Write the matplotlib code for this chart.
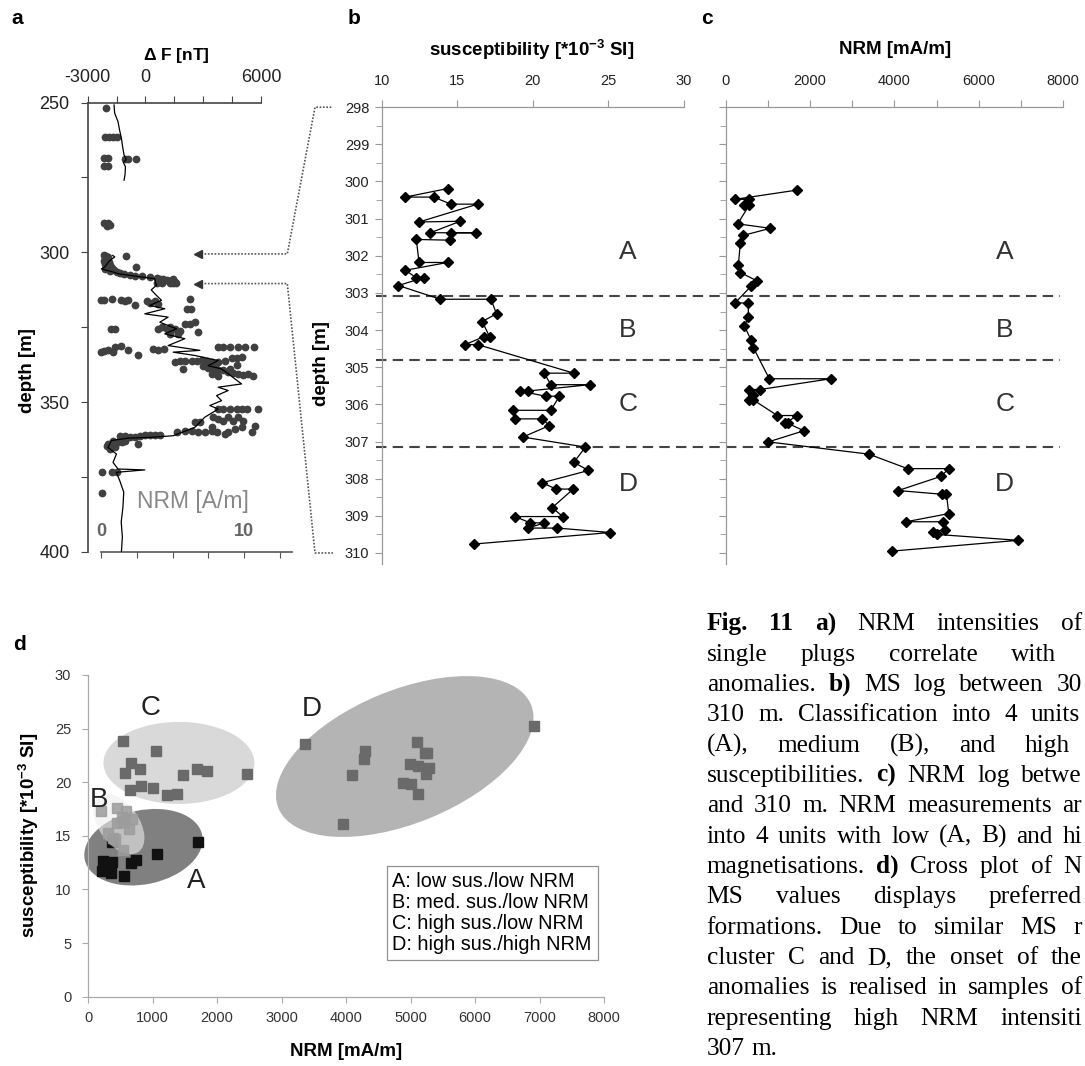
import numpy as np
import matplotlib
matplotlib.use("Agg")
import matplotlib.pyplot as plt
from matplotlib.patches import Ellipse
from matplotlib.lines import Line2D
from matplotlib.transforms import ScaledTranslation

plt.rcParams['font.family'] = ['Liberation Sans', 'DejaVu Sans']
plt.rcParams['mathtext.fontset'] = 'custom'
plt.rcParams['mathtext.rm'] = 'Liberation Sans'
plt.rcParams['mathtext.bf'] = 'Liberation Sans:bold'

# ---------------- data ----------------
# a) delta F log (depth in m, nT)
dF_depth = [250.8, 253.5, 256.4, 259.0, 262.0, 265.0, 267.5, 269.0, 270.0, 271.4, 274.0, 275.9, np.nan,
            301.0, 301.5, 303.0, 304.9, 305.5, 306.5, 307.1, 307.9, 308.8, 310.0, 311.0, 312.5, 313.8,
            316.0, 317.7, 318.8, 320.5, 321.6, 323.3, 325.5, 327.2, 328.8, 331.1, 332.7, 333.3, 334.4,
            336.1, 337.8, 338.9, 340.5, 342.0, 343.9, 345.0, 346.1, 347.8, 349.5, 351.1, 352.3, 355.0,
            358.4, 361.2, 361.7, 362.0, 362.8, 365.1, 367.3, 370.1, 372.3, 372.6, 373.4, 376.2, 380.0,
            385.0, 390.0, 395.0, 400.0]
dF_value = [-1632, -1600, -1424, -1350, -1248, -1180, -1112, -1000, -1150, -1040, -1060, -1112, np.nan,
            -1700, -1596, -1900, -2116, -2290, -1700, -1424, -556, 484, 520, 572, 300, 484,
            832, 224, 1004, -36, 1176, 744, 1612, 1004, 2044, 1176, 2824, 1436, 2564,
            3776, 3256, 3952, 4300, 4600, 4992, 3776, 4296, 3692, 3952, 3344, 3776, 3084,
            2564, 1436, 312, -904, -1768, -1944, -1508, -1684, -1424, -36, -1508, -1336, -1128,
            -1170, -1260, -1200, -1250]

# a) NRM of single plugs (depth in m, A/m)
plug_depth_top = [251.7, 261.6, 261.6, 261.4, 261.4, 268.4, 268.4, 268.8, 268.8, 268.8, 271.2, 271.2,
                  290.2, 290.2, 290.9, 291.3]
plug_nrm_top = [0.33, 0.28, 0.56, 0.86, 1.10, 0.23, 0.47, 1.68, 1.91, 2.42, 0.23, 0.51,
                0.23, 0.47, 0.63, 0.40]
plug_depth_300 = [301.0, 301.3, 301.6, 302.0, 302.3, 302.6, 303.0, 303.3, 303.6, 304.0, 304.3, 304.6,
                  305.0, 305.3, 305.6, 306.0, 306.3, 301.2, 304.9, 306.6, 306.9, 307.2, 307.5, 307.8,
                  308.0, 308.2, 308.5, 308.9, 309.3, 308.8, 309.9, 309.5, 308.8, 310.2, 310.2, 310.2,
                  310.2, 310.2]
plug_nrm_300 = [0.20, 0.35, 0.50, 0.25, 0.45, 0.30, 0.20, 0.55, 0.40, 0.25, 0.60, 0.35,
                0.50, 0.75, 0.30, 0.90, 0.60, 1.72, 2.42, 1.10, 1.30, 1.60, 2.00, 2.40,
                2.90, 3.43, 3.90, 4.13, 4.59, 5.06, 5.17, 4.80, 4.35, 3.90, 4.24, 4.82,
                5.06, 5.22]
plug_depth_320 = [315.8, 316.0, 315.5, 315.8, 316.2, 316.0, 317.7, 316.2, 316.9, 316.2, 317.1, 315.5,
                  318.8, 318.8, 325.5, 325.5, 325.5, 324.9, 325.5, 324.9, 325.5, 326.1, 323.8, 323.8,
                  323.3, 326.6, 327.2, 327.2]
plug_nrm_320 = [0.00, 0.23, 0.75, 1.40, 1.68, 1.91, 2.38, 3.19, 3.43, 3.78, 4.01, 6.22,
                5.99, 6.29, 0.70, 0.98, 4.01, 4.24, 4.59, 4.82, 5.17, 5.52, 5.87, 6.22,
                6.57, 6.81, 4.82, 5.40]
plug_depth_333 = [333.3, 333.0, 332.7, 333.3, 331.6, 331.4, 332.7, 334.1, 332.2, 332.7, 332.2, 331.6,
                  331.6, 331.6, 331.6, 331.6, 331.6]
plug_nrm_333 = [0.00, 0.23, 0.51, 0.86, 0.98, 1.40, 1.86, 2.61, 3.66, 4.01, 4.43, 8.20,
                8.56, 9.02, 9.60, 10.07, 10.72]
plug_depth_337 = [336.6, 336.3, 336.3, 336.1, 336.1, 335.9, 336.1, 336.6, 336.6, 336.1, 335.2, 335.2,
                  335.0, 338.9, 337.8, 338.5, 338.9, 339.2, 339.4, 340.0, 340.3, 340.5, 340.8, 340.5,
                  341.1, 340.5, 341.1, 338.0, 339.0, 337.5]
plug_nrm_337 = [5.17, 5.52, 5.87, 6.34, 6.69, 7.04, 7.39, 7.74, 8.20, 8.67, 9.14, 9.49,
                9.84, 5.71, 7.16, 7.51, 7.86, 8.20, 8.56, 8.90, 9.26, 9.60, 9.96, 10.30,
                10.65, 7.74, 8.20, 8.00, 9.00, 9.50]
plug_depth_355 = [352.3, 352.3, 352.3, 352.3, 352.3, 352.3, 352.3, 355.0, 355.6, 356.2, 355.0, 356.2,
                  355.0, 356.2, 358.4, 358.9, 360.1, 357.8, 360.1, 360.6, 360.1, 359.5, 360.1, 360.1,
                  359.5, 359.5, 360.1, 356.7, 356.7, 358.4]
plug_nrm_355 = [8.20, 8.56, 9.02, 9.49, 9.84, 10.19, 10.96, 7.86, 8.20, 8.56, 8.90, 9.26,
                9.60, 9.96, 9.84, 9.37, 8.90, 10.77, 10.54, 8.67, 8.09, 7.74, 7.27, 6.81,
                6.34, 5.87, 5.29, 6.57, 6.92, 7.74]
plug_depth_362 = [360.8, 360.8, 360.8, 360.8, 361.2, 361.5, 361.7, 361.2, 361.2, 363.95, 364.5, 363.95,
                  363.4, 363.4, 362.8, 365.6, 365.1, 363.95, 364.5, 362.8, 373.4, 373.4, 373.4, 380.2]
plug_nrm_362 = [4.13, 3.78, 3.43, 3.08, 2.73, 2.38, 2.03, 1.68, 1.33, 0.51, 0.75, 0.98,
                1.21, 1.45, 1.68, 0.63, 0.98, 2.61, 0.40, 0.86, 0.05, 0.75, 1.10, 0.05]

# b) susceptibility log
sus_depth = [300.19, 300.42, 300.42, 300.61, 300.61, 301.09, 301.07, 301.38, 301.38, 301.38, 301.58,
             301.56, 302.18, 302.18, 302.39, 302.59, 302.59, 302.80, 303.17, 303.17, 303.56, 303.77,
             304.18, 304.18, 304.39, 304.39, 305.16, 305.16, 305.47, 305.47, 305.64, 305.64, 305.78,
             305.78, 306.16, 306.16, 306.39, 306.39, 306.57, 306.88, 307.15, 307.56, 307.78, 308.11,
             308.28, 308.28, 308.78, 309.02, 309.02, 309.19, 309.19, 309.33, 309.33, 309.45, 309.76]
sus_value = [14.36, 11.56, 13.44, 14.58, 16.34, 12.47, 15.20, 13.22, 16.21, 14.58, 14.49,
             12.29, 12.47, 14.36, 11.56, 12.29, 12.78, 11.10, 13.88, 17.22, 17.60, 16.65,
             17.14, 16.74, 15.53, 16.34, 22.71, 20.75, 21.19, 23.77, 19.69, 19.14, 20.84,
             21.76, 21.19, 18.70, 18.85, 20.62, 21.10, 19.34, 23.48, 22.71, 23.68, 20.62,
             21.54, 22.67, 21.28, 21.98, 18.83, 19.82, 20.75, 19.69, 21.63, 25.13, 16.10]

# c) NRM log (mA/m)
nrm_depth = [300.23, 300.48, 300.48, 300.63, 300.63, 301.14, 301.26, 301.45, 301.66, 302.24, 302.45,
             302.67, 302.82, 303.27, 303.27, 303.66, 303.89, 304.26, 304.47, 305.31, 305.31, 305.60,
             305.60, 305.74, 305.88, 305.88, 306.30, 306.30, 306.51, 306.51, 306.71, 307.01, 307.34,
             307.73, 307.73, 307.94, 308.32, 308.42, 308.42, 308.94, 309.16, 309.16, 309.37, 309.43,
             309.50, 309.66, 309.95]
nrm_value = [1698, 221, 561, 442, 561, 284, 1058, 419, 347, 300, 347,
             734, 600, 221, 537, 537, 442, 600, 655, 1034, 2495, 813,
             561, 655, 561, 655, 1224, 1698, 1406, 1470, 1856, 1011, 3396,
             4312, 5291, 5101, 4091, 5133, 5236, 5291, 4280, 5157, 5212, 4920,
             5000, 6934, 3949]

unit_bounds = [303.08, 304.80, 307.15]
unit_names = ['A', 'B', 'C', 'D']
unit_label_depth = [301.9, 304.0, 306.0, 308.15]

# d) cross plot (NRM mA/m, susceptibility 10^-3 SI)
nrm_A = [237, 368, 308, 214, 356, 563, 664, 741, 1068, 1708, 368]
sus_A = [12.68, 12.59, 12.12, 11.75, 11.56, 11.25, 12.43, 12.74, 13.27, 14.45, 14.45]
nrm_B = [208, 445, 593, 522, 682, 445, 563, 641, 308, 385, 415, 546]
sus_B = [17.35, 17.56, 17.35, 16.79, 16.54, 16.16, 16.32, 15.60, 15.29, 14.77, 14.67, 13.68]
nrm_C = [548, 1050, 574, 667, 806, 651, 822, 1003, 1220, 1375, 1478, 1685, 1850, 2470]
sus_C = [23.85, 22.92, 20.90, 21.83, 21.21, 19.28, 19.68, 19.50, 18.79, 18.88, 20.68, 21.21, 21.08, 20.77]
nrm_D = [3364, 4295, 4279, 4088, 3948, 5096, 5251, 5220, 4992, 5121, 5292, 5240, 4879, 5003, 5121, 6915]
sus_D = [23.57, 22.95, 22.14, 20.68, 16.11, 23.79, 22.76, 22.70, 21.71, 21.52, 21.36, 20.74, 19.96, 19.81,
         18.91, 25.25]

legend_labels = ['A: low sus./low NRM', 'B: med. sus./low NRM', 'C: high sus./low NRM',
                 'D: high sus./high NRM']

caption_rows = [
    "Fig. 11 a) NRM intensities of",
    "single plugs correlate with",
    "anomalies. b) MS log between 30",
    "310 m. Classification into 4 units",
    "(A), medium (B), and high",
    "susceptibilities. c) NRM log betwe",
    "and 310 m. NRM measurements ar",
    "into 4 units with low (A, B) and hi",
    "magnetisations. d) Cross plot of N",
    "MS values displays preferred",
    "formations. Due to similar MS r",
    "cluster C and D, the onset of the",
    "anomalies is realised in samples of",
    "representing high NRM intensiti",
    "307 m.",
]
caption_right = [1082, 1056, 1082, 1080, 1070, 1082, 1082, 1082, 1082, 1082, 1082, 1082, 1082, 1082, None]
bold_words = {"Fig.", "11", "a)", "b)", "c)", "d)"}

# ---------------- figure ----------------
W, H = 1085, 1066
fig = plt.figure(figsize=(W / 100, H / 100), dpi=100)


def px_axes(l, t, r, b):
    return fig.add_axes([l / W, 1 - b / H, (r - l) / W, (b - t) / H])


# panel a
ax_n = px_axes(101, 102.6, 291.7, 552)
ax_a = px_axes(87.7, 102.6, 261, 552)
ax_a.set_zorder(3)
ax_a.patch.set_visible(False)
ax_n.patch.set_visible(False)

allp_d = plug_depth_top + plug_depth_300 + plug_depth_320 + plug_depth_333 + plug_depth_337 + plug_depth_355 + plug_depth_362
allp_n = plug_nrm_top + plug_nrm_300 + plug_nrm_320 + plug_nrm_333 + plug_nrm_337 + plug_nrm_355 + plug_nrm_362
ax_n.plot(allp_n, allp_d, 'o', ms=5.6, color='#404040', mec='none', clip_on=False)
ax_n.set_xlim(0, 13.33)
ax_n.set_ylim(400, 250)
for s in ['top', 'right', 'left']:
    ax_n.spines[s].set_visible(False)
ax_n.spines['bottom'].set_color('#555')
ax_n.spines['bottom'].set_linewidth(1.2)
ax_n.set_yticks([])
ax_n.set_xticks(np.arange(0, 13.4, 2.5))
ax_n.tick_params(axis='x', direction='out', length=4, color='#555', labelbottom=False)
ax_n.text(0, 393.3, '0', ha='center', va='center', fontsize=13, weight='bold', color='#666')
ax_n.text(10, 393.3, '10', ha='center', va='center', fontsize=13, weight='bold', color='#666')
ax_n.text(6.43, 383.2, 'NRM [A/m]', ha='center', va='center', fontsize=16.5, color='#888')

ax_a.plot(dF_value, dF_depth, color='black', lw=0.9)
ax_a.set_xlim(-3000, 6000)
ax_a.set_ylim(400, 250)
for s in ['bottom', 'right']:
    ax_a.spines[s].set_visible(False)
for s in ['top', 'left']:
    ax_a.spines[s].set_color('#444')
    ax_a.spines[s].set_linewidth(1.2)
ax_a.xaxis.tick_top()
ax_a.set_xticks(np.arange(-3000, 6001, 1500))
ax_a.set_xticklabels(['-3000', '', '0', '', '', '', '6000'])
ax_a.set_yticks(np.arange(250, 401, 25))
ax_a.set_yticklabels(['250', '', '300', '', '350', '', '400'])
ax_a.tick_params(axis='both', direction='out', length=5, color='#444', labelsize=13, labelcolor='#222')
ax_a.tick_params(axis='x', pad=7)
ax_a.tick_params(axis='y', pad=8)
fig.text(176.7 / W, 1 - 55.5 / H, r'$\mathbf{\Delta}$ F [nT]', ha='center', va='center', fontsize=12.5,
         weight='bold')
fig.text(28 / W, 1 - 371 / H, 'depth [m]', rotation=90, ha='center', va='center', fontsize=13.5,
         weight='bold')

# panels b and c
ax_b = px_axes(381.7, 107.2, 684, 564.1)
ax_c = px_axes(725.7, 107.2, 1063, 564.1)
ax_c.patch.set_visible(False)

for ax in (ax_b, ax_c):
    ax.set_ylim(310.3, 298)
    for s in ['bottom', 'right']:
        ax.spines[s].set_visible(False)
    for s in ['top', 'left']:
        ax.spines[s].set_color('#999')
        ax.spines[s].set_linewidth(0.9)
    ax.xaxis.tick_top()
    ax.set_yticks(np.arange(298, 310.1, 1))
    ax.set_yticks(np.arange(298.5, 310.1, 1), minor=True)
    ax.tick_params(axis='both', which='both', direction='out', color='#999', labelcolor='#222')
    ax.tick_params(axis='y', which='major', length=5, labelsize=10.5, pad=4)
    ax.tick_params(axis='y', which='minor', length=4)
    ax.tick_params(axis='x', which='major', length=5, labelsize=10.5, pad=9)

ax_b.plot(sus_value, sus_depth, '-', color='black', lw=0.9, marker='D', ms=5.5)
ax_b.set_xlim(10, 30)
ax_b.set_xticks(np.arange(10, 31, 5))
fig.text(531.7 / W, 1 - 49.8 / H, r'susceptibility [*10$^{\mathbf{-3}}$ SI]', ha='center', va='center',
         fontsize=13.5, weight='bold')
fig.text(321.7 / W, 1 - 364 / H, 'depth [m]', rotation=90, ha='center', va='center', fontsize=13.5,
         weight='bold')

ax_c.plot(nrm_value, nrm_depth, '-', color='black', lw=0.9, marker='D', ms=5.5)
ax_c.set_xlim(0, 8000)
ax_c.set_xticks(np.arange(0, 8001, 1000))
ax_c.set_xticklabels(['0', '', '2000', '', '4000', '', '6000', '', '8000'])
ax_c.set_yticklabels([])
fig.text(895 / W, 1 - 50 / H, 'NRM [mA/m]', ha='center', va='center', fontsize=13.5, weight='bold')

# unit boundaries across b and c
bw = 684 - 381.7
for y in unit_bounds:
    ax_b.axhline(y, (376 - 381.7) / bw, (1060 - 381.7) / bw, color='#444', lw=1.5,
                 dashes=(5, 3), clip_on=False, zorder=1)
for name, y in zip(unit_names, unit_label_depth):
    ax_b.text(26.3, y, name, ha='center', va='center', fontsize=19, color='#333')
    ax_c.text(6620, y, name, ha='center', va='center', fontsize=19, color='#333')

# connectors from a to b
fig.canvas.draw()
bx0, by298 = ax_b.transData.transform((10, 298))
_, by310 = ax_b.transData.transform((10, 310))
for depth, by in [(300.5, by298), (310.4, by310)]:
    tx, ty = ax_a.transData.transform((2723, depth))
    xs = np.array([tx, bx0 - 94.4, bx0 - 66.7, bx0 - 48.7]) / W
    ys = np.array([ty, ty, by, by]) / H
    fig.add_artist(Line2D(xs, ys, transform=fig.transFigure, color='#555', lw=1.2, ls=(0, (1, 1))))
    fig.add_artist(Line2D([tx / W], [ty / H], transform=fig.transFigure, marker='<', ms=6,
                          color='#333', ls='none'))

# panel d
ax_d = px_axes(88, 675, 604, 996.7)
ax_d.set_xlim(0, 8000)
ax_d.set_ylim(0, 30)
for s in ['top', 'right']:
    ax_d.spines[s].set_visible(False)
for s in ['left', 'bottom']:
    ax_d.spines[s].set_color('#aaa')
    ax_d.spines[s].set_linewidth(0.9)
ax_d.set_xticks(np.arange(0, 8001, 1000))
ax_d.set_yticks(np.arange(0, 31, 5))
ax_d.tick_params(axis='both', direction='out', length=4, color='#aaa', labelcolor='#333', labelsize=10.5)
ax_d.tick_params(axis='y', pad=8)
ax_d.tick_params(axis='x', pad=6)


def px_ellipse(ax, cx, cy, w_px, h_px, angle, **kw):
    e = Ellipse((0, 0), w_px / 100, h_px / 100, angle=angle, **kw)
    e.set_transform(fig.dpi_scale_trans + ScaledTranslation(cx, cy, ax.transData))
    e.set_clip_on(False)
    ax.add_patch(e)


px_ellipse(ax_d, 1410, 21.8, 151, 82, 0, fc='#d9d9d9', ec='none', zorder=1)
px_ellipse(ax_d, 4911, 22.4, 273, 133, 22.3, fc='#b4b4b4', ec='none', zorder=1)
px_ellipse(ax_d, 860, 13.94, 120, 74, 12, fc='#808080', ec='none', zorder=1)
ax_d.plot(nrm_A, sus_A, 's', ms=6.8, color='#111111', zorder=2)
px_ellipse(ax_d, 480, 16.1, 68, 40, -55, fc='#eeeeee', ec='none', alpha=0.6, zorder=3)
ax_d.plot(nrm_B, sus_B, 's', ms=6.8, color='#9c9c9c', alpha=0.85, zorder=4)
ax_d.plot(nrm_C, sus_C, 's', ms=6.8, color='#6a6a6a', zorder=4)
ax_d.plot(nrm_D, sus_D, 's', ms=6.8, color='#6a6a6a', zorder=4, clip_on=False)

for name, x, y in [('C', 977, 26.9), ('D', 3473, 26.8), ('B', 166, 18.35), ('A', 1674, 10.8)]:
    ax_d.text(x, y, name, ha='center', va='center', fontsize=20, color='#222', zorder=5)

handles = [Line2D([], [], ls='none', label=l) for l in legend_labels]
leg = ax_d.legend(handles=handles, loc='upper left', bbox_to_anchor=((386.5 - 88) / 516, 1 - (866 - 675) / 321.7),
                  borderaxespad=0, handlelength=0, handletextpad=0, fontsize=14.3, frameon=True,
                  fancybox=False, edgecolor='#777', labelspacing=0.1, borderpad=0.3)
leg.get_frame().set_linewidth(0.9)

ax_d.set_xlabel('NRM [mA/m]', fontsize=13.5, weight='bold', labelpad=13)
ax_d.set_ylabel(r'susceptibility [*10$^{\mathbf{-3}}$ SI]', fontsize=13.5, weight='bold', labelpad=10)

# panel letters
for let, x, y in [('a', 17, 18), ('b', 354, 18), ('c', 707, 18), ('d', 19, 645)]:
    fig.text(x / W, 1 - y / H, let, ha='center', va='center', fontsize=15, weight='bold')

# caption (justified lines)
renderer = fig.canvas.get_renderer()
left = 706.7
for i, (row, right) in enumerate(zip(caption_rows, caption_right)):
    yb = 630.2 + i * 30.35
    words = row.split()
    texts = []
    for w in words:
        t = fig.text(0, 1 - yb / H, w, fontsize=18.3, family=['Liberation Serif', 'DejaVu Serif'],
                     weight='bold' if w in bold_words else 'normal', ha='left', va='baseline')
        texts.append(t)
    widths = [t.get_window_extent(renderer).width for t in texts]
    if right is None or len(words) == 1:
        gap = 6.4
    else:
        gap = (right - left - sum(widths)) / (len(words) - 1)
    x = left
    for t, wd in zip(texts, widths):
        t.set_x(x / W)
        x += wd + gap

fig.savefig('out.png', dpi=100)
